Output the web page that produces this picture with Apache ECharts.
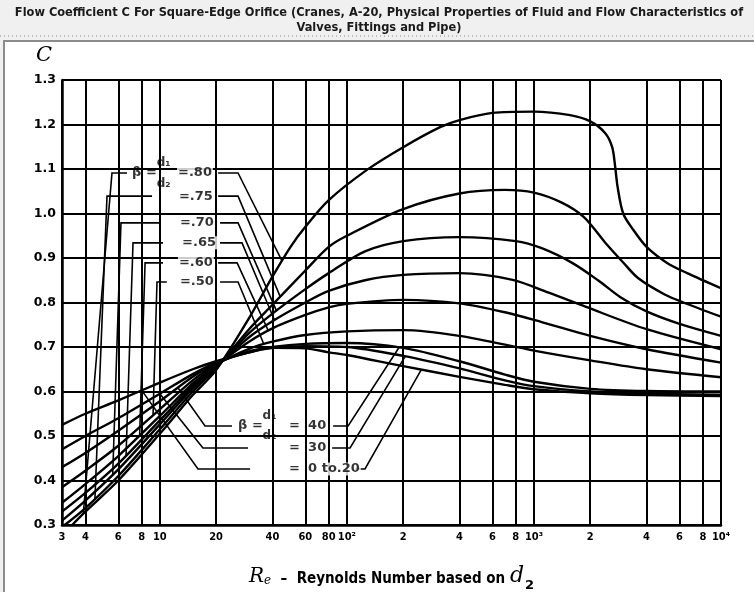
<!DOCTYPE html>
<html><head><meta charset="utf-8">
<script src="https://cdn.jsdelivr.net/npm/echarts@6/dist/echarts.min.js"></script>
<style>html,body{margin:0;padding:0;background:#f0f0f0}#c{width:754px;height:592px}</style>
</head><body><div id="c"></div><script>
const titleLines = ['Flow Coefficient C For Square-Edge Orifice (Cranes, A-20, Physical Properties of Fluid and Flow Characteristics of', 'Valves, Fittings and Pipe)'];

// x (Reynolds number) ticks and their printed labels
const reTicks = [3,4,6,8,10,20,40,60,80,100,200,400,600,800,1000,2000,4000,6000,8000,10000];
const reTickLabels = ['3','4','6','8','10','20','40','60','80','10²','2','4','6','8','10³','2','4','6','8','10⁴'];
// y (flow coefficient C) ticks
const cTicks = [0.3,0.4,0.5,0.6,0.7,0.8,0.9,1.0,1.1,1.2,1.3];

// curves: [Re, C]
const curveB020 = [[3,0.525],[4,0.550],[6,0.580],[10,0.620],[15,0.650],[20,0.668],[30,0.688],[40,0.698],[60,0.697],[80,0.688],[100,0.682],[200,0.657],[400,0.633],[700,0.615],[1000,0.605],[2000,0.596],[4000,0.592],[10000,0.590]];
const curveB30 = [[3,0.470],[4,0.500],[6,0.540],[10,0.595],[15,0.639],[20,0.665],[30,0.688],[40,0.698],[60,0.702],[100,0.700],[200,0.680],[400,0.652],[700,0.625],[1000,0.612],[2000,0.600],[4000,0.595],[10000,0.593]];
const curveB40 = [[3,0.430],[4,0.462],[6,0.512],[10,0.578],[15,0.633],[20,0.663],[30,0.690],[40,0.700],[60,0.707],[100,0.709],[200,0.698],[400,0.668],[700,0.638],[1000,0.622],[2000,0.606],[4000,0.601],[10000,0.600]];
const curveB50 = [[3,0.385],[4,0.422],[6,0.478],[10,0.560],[15,0.625],[20,0.661],[30,0.696],[40,0.712],[60,0.727],[100,0.735],[200,0.738],[400,0.725],[1000,0.692],[2000,0.670],[4000,0.650],[10000,0.632]];
const curveB60 = [[3,0.350],[4,0.392],[6,0.455],[10,0.545],[15,0.618],[20,0.659],[30,0.712],[40,0.742],[60,0.772],[80,0.789],[100,0.797],[200,0.806],[400,0.798],[700,0.778],[1100,0.756],[2000,0.725],[4000,0.695],[10000,0.665]];
const curveB65 = [[3,0.330],[4,0.372],[6,0.438],[10,0.535],[15,0.612],[20,0.657],[30,0.722],[40,0.758],[60,0.800],[80,0.826],[125,0.850],[200,0.862],[400,0.866],[770,0.851],[1200,0.822],[1900,0.790],[4000,0.740],[10000,0.695]];
const curveB70 = [[3,0.310],[4,0.355],[6,0.425],[10,0.526],[15,0.607],[20,0.655],[30,0.731],[40,0.775],[60,0.830],[80,0.866],[125,0.915],[200,0.938],[400,0.947],[800,0.938],[1100,0.922],[1600,0.889],[2200,0.850],[2900,0.812],[4000,0.780],[6000,0.752],[10000,0.725]];
const curveB75 = [[3.1,0.300],[4,0.338],[6,0.410],[10,0.515],[15,0.600],[20,0.652],[30,0.740],[40,0.795],[60,0.872],[80,0.925],[100,0.950],[200,1.010],[400,1.045],[700,1.053],[1000,1.047],[1400,1.025],[1850,0.992],[2400,0.935],[3000,0.890],[3600,0.855],[5000,0.818],[6300,0.800],[10000,0.768]];
const curveB80 = [[3.4,0.300],[4,0.330],[6,0.400],[10,0.505],[15,0.592],[20,0.648],[30,0.765],[40,0.858],[50,0.925],[60,0.970],[80,1.030],[128,1.098],[200,1.149],[315,1.194],[400,1.210],[600,1.226],[1000,1.229],[1560,1.221],[2000,1.207],[2400,1.181],[2620,1.149],[2720,1.104],[2800,1.060],[3000,1.000],[3400,0.963],[4000,0.925],[5150,0.889],[6600,0.866],[10000,0.832]];

const curves = [curveB020, curveB30, curveB40, curveB50, curveB60, curveB65, curveB70, curveB75, curveB80];

// C on a curve at a given Re (log-linear between read points)
function cAt(curve, re) {
  const lr = Math.log10(re);
  for (let i = 0; i < curve.length - 1; i++) {
    const a = curve[i], b = curve[i+1];
    if (re >= a[0] && re <= b[0]) {
      const t = (lr - Math.log10(a[0])) / (Math.log10(b[0]) - Math.log10(a[0]));
      return a[1] + t * (b[1] - a[1]);
    }
  }
  return curve[0][1];
}

// leader lines: start, corner (data coords), end Re on a curve
const leaders = [
  {curve: curveB80, start:[6.68,1.091], corner:[5.55,1.091], endRe:3.9},
  {curve: curveB75, start:[9.09,1.039], corner:[5.22,1.039], endRe:4.5},
  {curve: curveB70, start:[10.0,0.979], corner:[6.20,0.979], endRe:5.6},
  {curve: curveB65, start:[10.4,0.934], corner:[7.19,0.934], endRe:6.6},
  {curve: curveB60, start:[10.4,0.889], corner:[8.34,0.889], endRe:7.8},
  {curve: curveB50, start:[10.9,0.846], corner:[9.66,0.846], endRe:9.2},
  {curve: curveB80, start:[20.5,1.091], corner:[26.2,1.091], endRe:45},
  {curve: curveB75, start:[20.5,1.039], corner:[26.2,1.039], endRe:44},
  {curve: curveB70, start:[21.0,0.979], corner:[26.2,0.979], endRe:42},
  {curve: curveB65, start:[21.0,0.934], corner:[27.5,0.934], endRe:41},
  {curve: curveB60, start:[20.5,0.889], corner:[25.9,0.889], endRe:38},
  {curve: curveB50, start:[21.0,0.846], corner:[26.2,0.846], endRe:36},
  {curve: curveB40, start:[24.3,0.5225], corner:[17.45,0.5225], endRe:12.5},
  {curve: curveB30, start:[29.6,0.473], corner:[17.0,0.473], endRe:10},
  {curve: curveB020, start:[30.4,0.4258], corner:[16.0,0.4258], endRe:8},
  {curve: curveB40, start:[84.4,0.5225], corner:[101.5,0.5225], endRe:190},
  {curve: curveB30, start:[83.4,0.473], corner:[104,0.473], endRe:205},
  {curve: curveB020, start:[110.7,0.4258], corner:[125,0.4258], endRe:250}
];

// annotation texts (data coords of their left edge)
const labelTexts = [
  {re:7.02, c:1.091, text:'β ='},
  {re:9.5, c:1.1135, text:'d₁'},
  {re:9.5, c:1.0665, text:'d₂'},
  {re:12.36, c:1.091, text:'=.80'},
  {re:12.5, c:1.039, text:'=.75'},
  {re:12.66, c:0.979, text:'=.70'},
  {re:12.99, c:0.934, text:'=.65'},
  {re:12.5, c:0.889, text:'=.60'},
  {re:12.66, c:0.846, text:'=.50'},
  {re:25.9, c:0.5225, text:'β ='},
  {re:35.0, c:0.5445, text:'d₁'},
  {re:35.0, c:0.5, text:'d₂'},
  {re:48.5, c:0.5225, text:'='},
  {re:61.3, c:0.5225, text:'40'},
  {re:48.5, c:0.473, text:'='},
  {re:61.3, c:0.473, text:'30'},
  {re:48.5, c:0.4258, text:'='},
  {re:61.3, c:0.4258, text:'0 to.20'}
];

const chart = echarts.init(document.getElementById('c'), null, {renderer:'canvas'});

const curveSeries = curves.map((d, i) => ({
  type:'line', data:d, smooth:0.3, symbol:'none', silent:true, z:3,
  lineStyle:{color:'#000', width:2.4}
}));
curveSeries[0].markLine = {
  silent:true, symbol:'none', label:{show:false}, animation:false,
  lineStyle:{color:'#000', width:2, type:'solid'},
  data: reTicks.map(v => ({xAxis:v}))
};

const option = {
  backgroundColor:'#f0f0f0',
  animation:false,
  graphic:[
    {type:'text', z:10, x:379, y:6, style:{text:titleLines[0], font:'bold 12.7px "DejaVu Sans Condensed"', fill:'#1a1a1a', textAlign:'center'}},
    {type:'text', z:10, x:379, y:21, style:{text:titleLines[1], font:'bold 12.7px "DejaVu Sans Condensed"', fill:'#1a1a1a', textAlign:'center'}},
    {type:'line', z:-10, shape:{x1:0,y1:36,x2:754,y2:36}, style:{stroke:'#8a8a8a', lineWidth:1, lineDash:[1,3]}},
    {type:'rect', z:-10, shape:{x:4,y:41,width:770,height:570}, style:{fill:'#fff', stroke:'#8c8c8c', lineWidth:2}},
    {type:'text', z:10, x:36, y:45, style:{text:'C', font:'italic 21px "DejaVu Serif"', fill:'#000'}}
  ],
  grid:{left:62, right:33, top:80, bottom:67, containLabel:false, outerBoundsMode:'none'},
  xAxis:{
    type:'log', logBase:10, min:3, max:10000,
    axisLine:{show:true, lineStyle:{color:'#000', width:2.5}},
    axisTick:{show:false},
    splitLine:{show:false},
    axisLabel:{
      customValues:reTicks, color:'#000', fontFamily:'DejaVu Sans Condensed', fontWeight:'bold', fontSize:11, margin:7,
      formatter:(v) => { const i = reTicks.findIndex(t => Math.abs(t - v) / t < 1e-6); return i >= 0 ? reTickLabels[i] : ''; }
    },
    name:'{r|R}{rs|e}{t|  –  Reynolds Number based on }{d|d}{ds|2}',
    nameLocation:'middle', nameGap:40,
    nameTextStyle:{
      rich:{
        r:{fontStyle:'italic', fontSize:20, fontFamily:'DejaVu Serif', color:'#000', verticalAlign:'bottom'},
        rs:{fontStyle:'italic', fontSize:12, fontFamily:'DejaVu Serif', color:'#000', verticalAlign:'bottom'},
        t:{fontWeight:'bold', fontSize:15, fontFamily:'DejaVu Sans Condensed', color:'#000', verticalAlign:'bottom'},
        d:{fontStyle:'italic', fontSize:22, fontFamily:'DejaVu Serif', color:'#000', verticalAlign:'bottom'},
        ds:{fontWeight:'bold', fontSize:13, fontFamily:'DejaVu Sans', color:'#000', verticalAlign:'bottom', padding:[0,0,-5,1]}
      }
    }
  },
  yAxis:{
    type:'value', min:0.3, max:1.3, interval:0.1,
    axisLine:{show:true, lineStyle:{color:'#000', width:2.5}},
    axisTick:{show:false},
    splitLine:{show:true, lineStyle:{color:'#000', width:2}},
    axisLabel:{color:'#000', fontFamily:'DejaVu Sans', fontWeight:'bold', fontSize:12.5, margin:6,
      formatter:(v) => v.toFixed(1)}
  },
  series:[
    ...curveSeries,
    {
      type:'lines', coordinateSystem:'cartesian2d', polyline:true, silent:true, z:4,
      symbol:['none','arrow'], symbolSize:6,
      lineStyle:{color:'#000', width:1.6, opacity:1},
      data: leaders.map(l => ({coords:[l.start, l.corner, [l.endRe, cAt(l.curve, l.endRe)]]}))
    },
    {
      type:'scatter', symbolSize:0, silent:true, z:5,
      data: labelTexts.map(l => ({
        value:[l.re, l.c],
        label:{show:true, position:'right', distance:0, formatter:l.text,
          color:'#000', fontFamily:'DejaVu Sans', fontWeight:'bold', fontSize:(l.text.startsWith('d') ? 12 : 13),
          backgroundColor: (l.text.startsWith('d') || l.text.startsWith('β')) ? 'transparent' : '#fff', padding:[0,1]}
      }))
    }
  ]
};
chart.setOption(option);
</script></body></html>
